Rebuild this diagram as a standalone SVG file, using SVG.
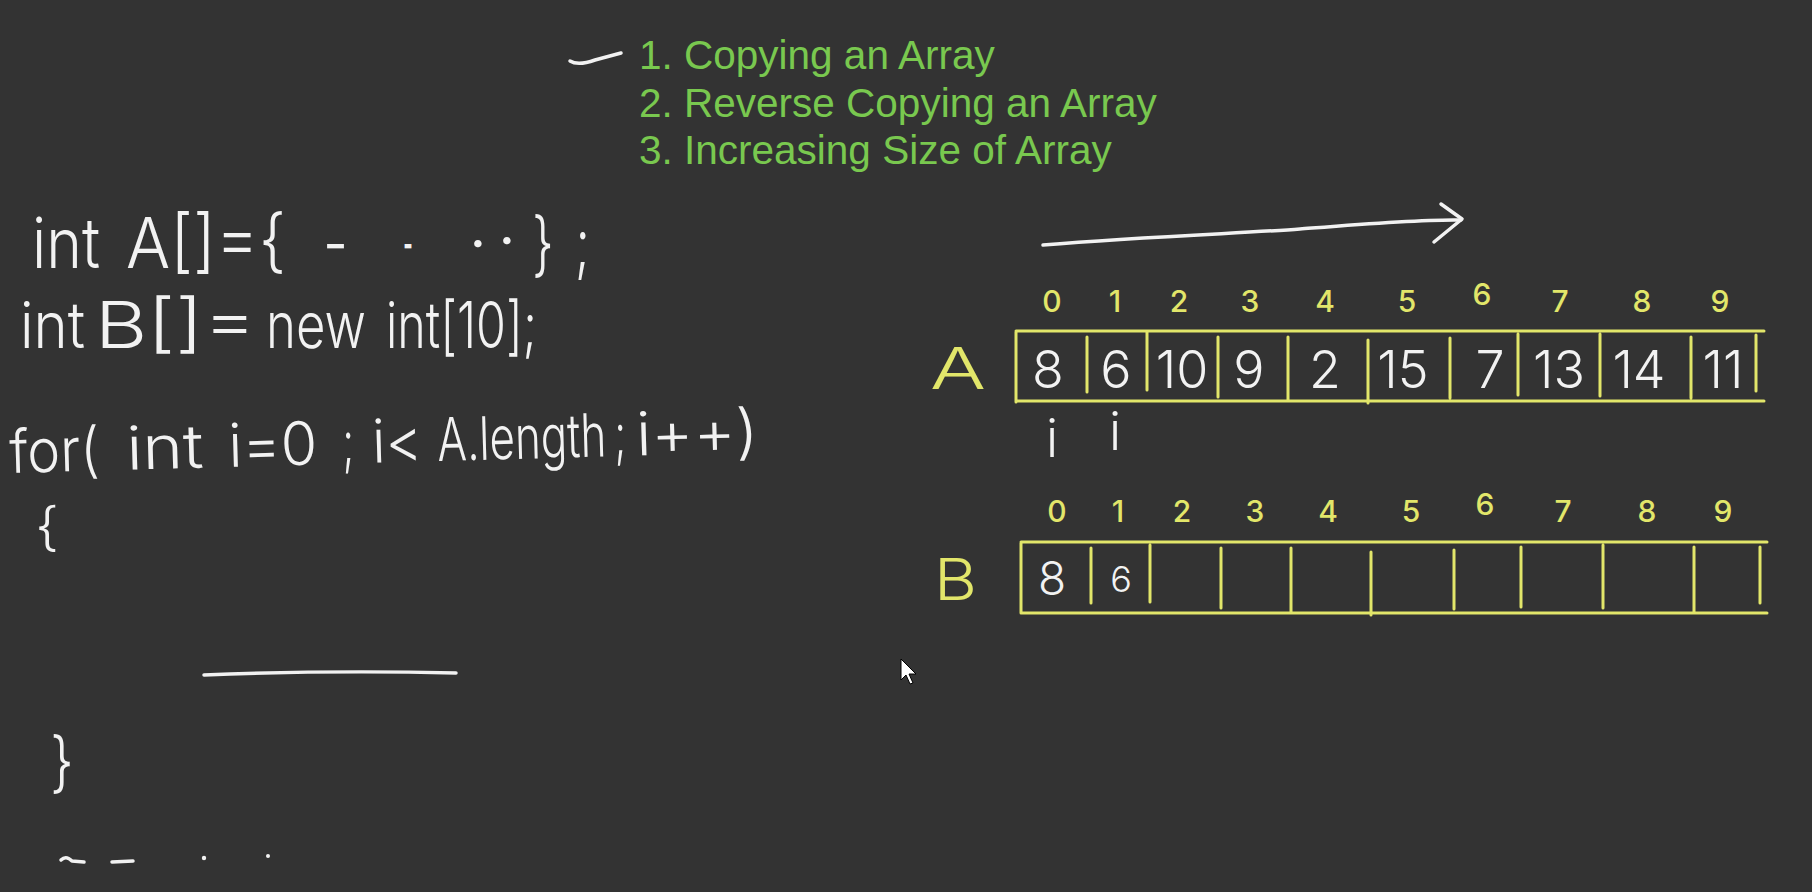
<svg xmlns="http://www.w3.org/2000/svg" width="1812" height="892" viewBox="0 0 1812 892">
<defs>
<style>
.hw{font-family:"Inter","Liberation Sans",sans-serif;font-weight:300;fill:#f2f2f2}
.green{font-family:"Liberation Sans",Arial,sans-serif;font-size:40.5px;fill:#79c84f}
.yl{font-family:"Inter","Liberation Sans",sans-serif;font-weight:300;fill:#e2e66a}
.idx{font-size:30px;font-weight:500;text-anchor:middle}
.val{font-size:52px;text-anchor:middle}
.box{stroke:#e2e66a;stroke-width:3;fill:none;stroke-linecap:round}
.pen{stroke:#f2f2f2;stroke-width:3.5;fill:none;stroke-linecap:round;stroke-linejoin:round}
</style>
</defs>
<rect width="1812" height="892" fill="#333333"/>

<g id="topic-list">
<path class="pen" d="M570,61 Q578,66 595,60 L621,53"/>
<text class="green" x="639" y="69">1. Copying an Array</text>
<text class="green" x="639" y="117">2. Reverse Copying an Array</text>
<text class="green" x="639" y="164">3. Increasing Size of Array</text>
</g>

<g id="code">
<text class="hw" font-size="70" x="32" y="268" textLength="68" lengthAdjust="spacingAndGlyphs">int</text>
<text class="hw" font-size="70" x="126" y="268" textLength="160" lengthAdjust="spacingAndGlyphs">A[]={</text>
<text class="hw" font-size="70" x="323" y="268" textLength="25" lengthAdjust="spacingAndGlyphs">-</text>
<text class="hw" font-size="70" x="403" y="268" textLength="10" lengthAdjust="spacingAndGlyphs">-</text>
<text class="hw" font-size="70" x="468" y="268">·</text>
<text class="hw" font-size="70" x="497" y="265">·</text>
<text class="hw" font-size="70" x="532" y="268" textLength="22" lengthAdjust="spacingAndGlyphs">}</text>
<text class="hw" font-size="70" x="575" y="268" textLength="15" lengthAdjust="spacingAndGlyphs">;</text>

<text class="hw" font-size="64" x="20" y="348" textLength="65" lengthAdjust="spacingAndGlyphs">int</text>
<text class="hw" font-size="64" x="95" y="348" textLength="161" lengthAdjust="spacingAndGlyphs">B[]=</text>
<text class="hw" font-size="64" x="266" y="348" textLength="100" lengthAdjust="spacingAndGlyphs">new</text>
<text class="hw" font-size="64" x="386" y="348" textLength="151" lengthAdjust="spacingAndGlyphs">int[10];</text>

<g transform="rotate(-1.6 10 473)">
<text class="hw" font-size="60" x="10" y="473" textLength="90" lengthAdjust="spacingAndGlyphs">for(</text>
<text class="hw" font-size="60" x="127" y="473" textLength="77" lengthAdjust="spacingAndGlyphs">int</text>
<text class="hw" font-size="60" x="229" y="473" textLength="89" lengthAdjust="spacingAndGlyphs">i=0</text>
<text class="hw" font-size="60" x="343" y="473" textLength="12" lengthAdjust="spacingAndGlyphs">;</text>
<text class="hw" font-size="60" x="373" y="473" textLength="50" lengthAdjust="spacingAndGlyphs">i&lt;</text>
<text class="hw" font-size="60" x="438" y="473" textLength="169" lengthAdjust="spacingAndGlyphs">A.length</text>
<text class="hw" font-size="60" x="615" y="473" textLength="12" lengthAdjust="spacingAndGlyphs">;</text>
<text class="hw" font-size="60" x="637" y="473" textLength="122" lengthAdjust="spacingAndGlyphs">i++)</text>
</g>

<text class="hw" font-size="52" x="35" y="545" textLength="24" lengthAdjust="spacingAndGlyphs">{</text>
<path class="pen" d="M204,675 Q330,670 456,673"/>
<text class="hw" font-size="66" x="50" y="785" textLength="24" lengthAdjust="spacingAndGlyphs">}</text>

<path class="pen" d="M61,860 Q66,855 72,861 L84,862"/>
<path class="pen" d="M112,862 L133,861"/>
<circle cx="204" cy="858" r="2.2" fill="#f2f2f2"/>
<circle cx="268" cy="856" r="2" fill="#f2f2f2"/>
</g>

<g id="connectors">
<path class="pen" d="M1043,245 C1150,236 1250,233 1300,229 S1420,219 1461,220"/>
<path class="pen" d="M1441,204 L1462,219 L1434,242"/>
</g>

<g id="array-A">
<text class="yl" font-size="58" x="930" y="389" textLength="56" lengthAdjust="spacingAndGlyphs">A</text>
<g class="yl idx">
<text x="1052" y="312">0</text><text x="1115" y="312">1</text><text x="1179" y="312">2</text><text x="1250" y="312">3</text><text x="1325" y="312">4</text>
<text x="1407" y="312">5</text><text x="1482" y="305">6</text><text x="1560" y="312">7</text><text x="1642" y="312">8</text><text x="1720" y="312">9</text>
</g>
<path class="box" d="M1016,331 L1764,331 M1016,401 L1764,401 M1016,332 L1016,402 M1087,337 L1087,392 M1147,332 L1147,390 M1218,337 L1218,397 M1288,337 L1288,400 M1368,340 L1368,403 M1450,338 L1450,398 M1518,334 L1518,395 M1600,334 L1600,396 M1691,337 L1691,398 M1756,335 L1756,391"/>
<g class="hw val">
<text x="1048" y="388">8</text><text x="1116" y="388">6</text><text x="1182" y="388">10</text><text x="1249" y="388">9</text><text x="1325" y="388">2</text>
<text x="1403" y="388">15</text><text x="1490" y="388">7</text><text x="1559" y="388">13</text><text x="1639" y="388">14</text><text x="1723" y="388">11</text>
</g>
<text class="hw" font-size="52" x="1052" y="457" text-anchor="middle">i</text>
<text class="hw" font-size="52" x="1115" y="450" text-anchor="middle">i</text>
</g>

<g id="array-B">
<text class="yl" font-size="58" x="934" y="600" textLength="43" lengthAdjust="spacingAndGlyphs">B</text>
<g class="yl idx">
<text x="1057" y="522">0</text><text x="1118" y="522">1</text><text x="1182" y="522">2</text><text x="1255" y="522">3</text><text x="1328" y="522">4</text>
<text x="1411" y="522">5</text><text x="1485" y="515">6</text><text x="1563" y="522">7</text><text x="1647" y="522">8</text><text x="1723" y="522">9</text>
</g>
<path class="box" d="M1021,542 L1767,542 M1021,613 L1767,613 M1021,543 L1021,613 M1091,548 L1091,603 M1150,545 L1150,602 M1221,548 L1221,608 M1291,548 L1291,613 M1371,552 L1371,615 M1454,550 L1454,609 M1521,547 L1521,607 M1603,545 L1603,608 M1694,547 L1694,612 M1760,547 L1760,603"/>
<text class="hw" font-size="46" x="1052" y="595" text-anchor="middle">8</text>
<text class="hw" font-size="36" x="1121" y="592" text-anchor="middle">6</text>
</g>

<g id="cursor">
<path d="M901,659 L901,680 L906,675 L910,684 L913,683 L909,674 L916,674 Z" fill="#ffffff" stroke="#000000" stroke-width="1"/>
</g>
</svg>
